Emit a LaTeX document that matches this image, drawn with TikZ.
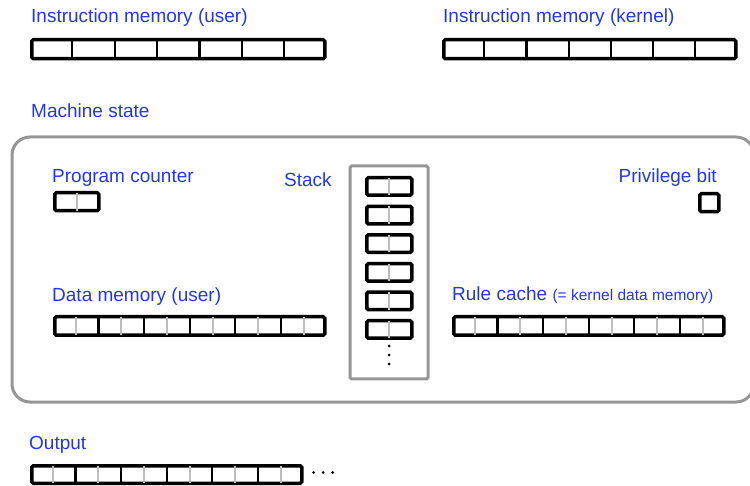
\documentclass[tikz,border=0pt]{standalone}
\usepackage{fontspec}
\setmainfont{Liberation Sans}
\usetikzlibrary{calc}
\definecolor{lblue}{RGB}{35,55,230}
\definecolor{framegray}{RGB}{150,150,150}
\definecolor{subgray}{RGB}{190,190,190}
\begin{document}
\begin{tikzpicture}[x=1pt,y=-1pt,
  lbl/.style={text=lblue, font=\fontsize{19}{21}\selectfont, inner sep=0pt, anchor=base west},
  mem/.style={draw=black, line width=3.5pt, rounded corners=1.5pt, fill=white, inner sep=0pt, anchor=north west, minimum height=19pt},
  cellsep/.style={black, line width=2.2pt},
  subsep/.style={subgray, line width=2pt, shorten <=1.75pt, shorten >=1.75pt},
  framebox/.style={draw=framegray, line width=3pt, inner sep=0pt, anchor=north west},
  dot/.style={fill=black, circle, inner sep=0pt, minimum size=3pt}]
\useasboundingbox (0,0) rectangle (750,486);

% Instruction memories
\node[lbl] (limu) at (31,23) {Instruction memory (user)};
\node[mem, minimum width=293pt] (imu) at (30,38) {};
\foreach \i in {1,...,6}
  \draw[cellsep] ($(imu.north west)!\i/7!(imu.north east)$) -- ($(imu.south west)!\i/7!(imu.south east)$);

\node[lbl] (limk) at (443,23) {Instruction memory (kernel)};
\node[mem, minimum width=292pt] (imk) at (442,38) {};
\foreach \i in {1,...,6}
  \draw[cellsep] ($(imk.north west)!\i/7!(imk.north east)$) -- ($(imk.south west)!\i/7!(imk.south east)$);

% Machine state
\node[lbl] (lms) at (31,118) {Machine state};
\node[framebox, rounded corners=18pt, minimum width=742pt, minimum height=265pt] (ms) at (10.5,135.5) {};

% Program counter
\node[lbl] (lpc) at (52,183) {Program counter};
\node[mem, minimum width=44pt, minimum height=18pt] (pc) at (53,191) {};
\draw[subsep] (pc.north) -- (pc.south);

% Stack
\node[lbl] (lst) at (284,187) {Stack};
\node[framebox, rounded corners=1.5pt, minimum width=78pt, minimum height=213pt] (stk) at (348.5,164.5) {};
\foreach \j in {0,...,5} {
  \node[mem, minimum width=45pt, minimum height=17.5pt] (s\j) at (365,{176+28.6*\j}) {};
  \draw[subsep] (s\j.north) -- (s\j.south);
}
\node[dot] (sd1) at (389,346) {};
\node[dot] (sd2) at (389,355) {};
\node[dot] (sd3) at (389,364) {};

% Privilege bit
\node[lbl, anchor=base east] (lpb) at (717,183) {Privilege bit};
\node[mem, minimum width=19pt, minimum height=18pt] (pb) at (698,192) {};

% Data memory
\node[lbl] (ldm) at (52,302) {Data memory (user)};
\node[mem, minimum width=270pt, minimum height=18.5pt] (dm) at (53,315) {};
\foreach \i in {1,3,...,11}
  \draw[subsep] ($(dm.north west)!\i/12!(dm.north east)$) -- ($(dm.south west)!\i/12!(dm.south east)$);
\foreach \i in {2,4,...,10}
  \draw[cellsep] ($(dm.north west)!\i/12!(dm.north east)$) -- ($(dm.south west)!\i/12!(dm.south east)$);

% Rule cache
\node[lbl] (lrc) at (452,301) {Rule cache \fontsize{15.5}{17}\selectfont(= kernel data memory)};
\node[mem, minimum width=270pt, minimum height=18.5pt] (rc) at (452,315) {};
\foreach \i in {1,3,...,11}
  \draw[subsep] ($(rc.north west)!\i/12!(rc.north east)$) -- ($(rc.south west)!\i/12!(rc.south east)$);
\foreach \i in {2,4,...,10}
  \draw[cellsep] ($(rc.north west)!\i/12!(rc.north east)$) -- ($(rc.south west)!\i/12!(rc.south east)$);

% Output
\node[lbl] (lout) at (29,449) {Output};
\node[mem, minimum width=270pt, minimum height=17.5pt] (out) at (30,464) {};
\foreach \i in {1,3,...,11}
  \draw[subsep] ($(out.north west)!\i/12!(out.north east)$) -- ($(out.south west)!\i/12!(out.south east)$);
\foreach \i in {2,4,...,10}
  \draw[cellsep] ($(out.north west)!\i/12!(out.north east)$) -- ($(out.south west)!\i/12!(out.south east)$);
\node[dot] (od1) at (313.5,472.5) {};
\node[dot] (od2) at (323,472.5) {};
\node[dot] (od3) at (332.5,472.5) {};
\end{tikzpicture}
\end{document}
